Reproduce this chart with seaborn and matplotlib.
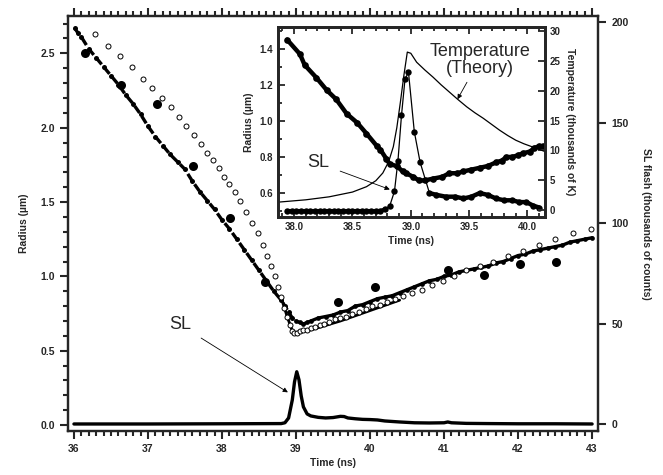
import numpy as np
import pandas as pd
import matplotlib
matplotlib.use("Agg")
import matplotlib.pyplot as plt
from matplotlib.ticker import MultipleLocator
import seaborn as sns

# ---- main plot data (time in ns, radius in um, SL in thousands of counts) ----
fall_t = [36.01, 36.05, 36.1, 36.2, 36.3, 36.4, 36.5, 36.6, 36.7, 36.8, 36.9,
          37.0, 37.1, 37.2, 37.3, 37.4, 37.5, 37.6, 37.7, 37.8, 37.9, 38.0,
          38.1, 38.2, 38.3, 38.4, 38.5, 38.6, 38.7, 38.8, 38.85, 38.9, 38.95]
fall_r = [2.67, 2.64, 2.61, 2.53, 2.47, 2.41, 2.35, 2.29, 2.22, 2.16, 2.09,
          2.01, 1.94, 1.88, 1.82, 1.77, 1.72, 1.64, 1.57, 1.51, 1.45, 1.38,
          1.32, 1.25, 1.18, 1.11, 1.04, 0.97, 0.90, 0.84, 0.80, 0.76, 0.72]

rise_t = [39.0, 39.05, 39.1, 39.15, 39.2, 39.3, 39.4, 39.5, 39.6, 39.7, 39.8,
          39.9, 40.0, 40.1, 40.2, 40.3, 40.4, 40.5, 40.6, 40.7, 40.8, 40.9,
          41.0, 41.1, 41.2, 41.3, 41.4, 41.5, 41.6, 41.7, 41.8, 41.9, 42.0,
          42.1, 42.2, 42.3, 42.4, 42.5, 42.6, 42.7, 42.8, 42.9, 43.0]
rise_r = [0.70, 0.69, 0.68, 0.69, 0.70, 0.72, 0.73, 0.74, 0.76, 0.77, 0.80,
          0.81, 0.83, 0.85, 0.86, 0.87, 0.89, 0.91, 0.93, 0.95, 0.97, 0.98,
          1.00, 1.01, 1.03, 1.04, 1.05, 1.06, 1.07, 1.09, 1.10, 1.12, 1.14,
          1.15, 1.17, 1.18, 1.19, 1.20, 1.21, 1.23, 1.24, 1.25, 1.26]

big_t = [36.15, 36.64, 37.12, 37.61, 38.11, 38.58, 39.57, 40.07, 41.05, 41.54, 42.02, 42.51]
big_r = [2.50, 2.29, 2.16, 1.74, 1.39, 0.96, 0.83, 0.93, 1.04, 1.01, 1.08, 1.10]

theory_t = [36.28, 36.46, 36.62, 36.78, 36.93, 37.06, 37.19, 37.31, 37.42, 37.52,
            37.62, 37.71, 37.80, 37.88, 37.96, 38.03, 38.10, 38.17, 38.24, 38.33,
            38.41, 38.48, 38.55, 38.61, 38.66, 38.71, 38.76, 38.80, 38.84, 38.88,
            38.92, 38.95, 38.97, 39.02, 39.06, 39.10, 39.15, 39.20, 39.26, 39.32,
            39.38, 39.45, 39.52, 39.60, 39.68, 39.76, 39.85, 39.94, 40.03, 40.13,
            40.23, 40.34, 40.45, 40.57, 40.70, 40.84, 40.98, 41.13, 41.30, 41.48,
            41.66, 41.86, 42.06, 42.28, 42.50, 42.74, 42.99]
theory_r = [2.63, 2.55, 2.48, 2.41, 2.33, 2.27, 2.20, 2.14, 2.07, 2.01,
            1.95, 1.89, 1.83, 1.78, 1.73, 1.67, 1.62, 1.57, 1.51, 1.43,
            1.36, 1.29, 1.21, 1.14, 1.07, 1.00, 0.93, 0.86, 0.79, 0.73,
            0.67, 0.63, 0.62, 0.62, 0.63, 0.64, 0.64, 0.65, 0.66, 0.67,
            0.68, 0.69, 0.71, 0.72, 0.73, 0.75, 0.76, 0.78, 0.80, 0.81,
            0.83, 0.85, 0.87, 0.89, 0.91, 0.94, 0.97, 1.00, 1.04, 1.07,
            1.10, 1.14, 1.17, 1.21, 1.25, 1.29, 1.32]
vline_t = [38.80, 38.88, 38.96, 39.2, 39.6, 40.0, 40.4]
vline_r = [0.86, 0.73, 0.62, 0.64, 0.70, 0.77, 0.84]

sl_t = [36.0, 37.0, 38.0, 38.8, 38.85, 38.9, 38.95, 38.98, 39.01, 39.04, 39.07,
        39.1, 39.15, 39.2, 39.3, 39.4, 39.5, 39.6, 39.65, 39.7, 39.8, 39.9,
        40.0, 40.1, 40.2, 40.4, 40.6, 40.8, 41.0, 41.05, 41.1, 41.3, 41.6,
        42.0, 42.5, 43.0]
sl_c = [0.0, 0.0, 0.1, 0.2, 0.6, 3.0, 12.0, 21.0, 26.0, 22.0, 14.0,
        8.5, 5.0, 4.0, 3.3, 3.0, 3.2, 3.8, 3.7, 3.0, 2.6, 2.3,
        2.2, 2.0, 1.5, 1.0, 0.6, 0.5, 0.6, 1.0, 0.6, 0.3, 0.2,
        0.1, 0.1, 0.0]

# ---- inset data ----
in_rad_t = [37.94, 38.05, 38.09, 38.19, 38.28, 38.36, 38.45, 38.54, 38.62, 38.71,
            38.74, 38.79, 38.82, 38.88, 38.93, 38.96, 39.02, 39.07, 39.12, 39.19,
            39.27, 39.33, 39.40, 39.45, 39.52, 39.59, 39.66, 39.73, 39.78, 39.82,
            39.87, 39.92, 39.96, 40.02, 40.06, 40.10, 40.13]
in_rad_r = [1.45, 1.37, 1.31, 1.24, 1.17, 1.12, 1.04, 0.99, 0.93, 0.86,
            0.84, 0.79, 0.76, 0.75, 0.72, 0.71, 0.69, 0.67, 0.67, 0.68,
            0.69, 0.71, 0.71, 0.72, 0.73, 0.74, 0.75, 0.77, 0.78, 0.80,
            0.80, 0.81, 0.82, 0.83, 0.85, 0.86, 0.86]

in_sl_t = [37.94, 37.98, 38.02, 38.06, 38.10, 38.14, 38.18, 38.22, 38.26, 38.30,
           38.34, 38.38, 38.42, 38.46, 38.50, 38.54, 38.58, 38.62, 38.66, 38.70,
           38.74, 38.78, 38.82, 38.86, 38.89, 38.92, 38.95, 38.98, 39.03, 39.08,
           39.16, 39.22, 39.30, 39.38, 39.45, 39.52, 39.59, 39.66, 39.73, 39.80,
           39.87, 39.93, 39.99, 40.05, 40.10]
in_sl_r = [0.50, 0.50, 0.50, 0.50, 0.50, 0.50, 0.50, 0.50, 0.50, 0.50,
           0.50, 0.50, 0.50, 0.50, 0.50, 0.50, 0.50, 0.50, 0.50, 0.50,
           0.50, 0.51, 0.53, 0.61, 0.78, 1.03, 1.23, 1.27, 0.94, 0.77,
           0.60, 0.59, 0.58, 0.58, 0.57, 0.58, 0.60, 0.59, 0.57, 0.56,
           0.56, 0.55, 0.55, 0.53, 0.52]
tail_start = 30  # index where the SL flash has decayed into its tail

temp_t = [37.86, 38.10, 38.30, 38.50, 38.62, 38.70, 38.76, 38.81, 38.85, 38.88,
          38.91, 38.94, 38.97, 39.00, 39.05, 39.12, 39.19, 39.26, 39.33, 39.40,
          39.48, 39.55, 39.62, 39.69, 39.76, 39.83, 39.90, 39.97, 40.04, 40.15]
temp_k = [1.3, 1.7, 2.2, 3.0, 3.9, 4.9, 6.2, 8.1, 10.6, 13.8,
          18.0, 22.5, 26.5, 26.3, 24.8, 23.5, 22.3, 21.0, 19.8, 18.6,
          17.3, 16.3, 15.4, 14.4, 13.4, 12.5, 11.7, 11.1, 10.6, 9.8]

sns.set_style("ticks")
plt.rcParams["font.family"] = ["Liberation Sans", "DejaVu Sans"]
plt.rcParams["axes.linewidth"] = 1.6

fig = plt.figure(figsize=(6.63, 4.75), dpi=100)
ax = fig.add_axes([0.1026, 0.0926, 0.7994, 0.8734])
ax2 = ax.twinx()

ax.plot(fall_t, fall_r, "o", color="black", ms=3.6, mew=0)
ax.plot(fall_t, fall_r, color="black", lw=2.4, ls=(0, (2.5, 1.2)))
ax.plot(rise_t, rise_r, "o-", color="black", ms=3.4, mew=0, lw=2.4)
ax.plot(big_t, big_r, "o", color="black", ms=6.5, mew=0)
ax.plot(vline_t, vline_r, "-", color="black", lw=2.0)
ax.plot(theory_t, theory_r, "o", mfc="white", mec="black", ms=3.6, mew=0.7)
sns.lineplot(x=sl_t, y=sl_c, ax=ax2, color="black", lw=2.4, estimator=None, sort=False)

ax.set_xlim(35.92, 43.08)
ax.set_ylim(-0.04, 2.75)
ax2.set_ylim(-3.5, 203)
ax.xaxis.set_major_locator(MultipleLocator(1))
ax.xaxis.set_minor_locator(MultipleLocator(0.1))
ax.yaxis.set_major_locator(MultipleLocator(0.5))
ax.yaxis.set_minor_locator(MultipleLocator(0.1))
ax2.yaxis.set_major_locator(MultipleLocator(50))
ax.tick_params(which="both", direction="out", top=True, width=1.5, labelsize=7.5)
ax.tick_params(which="major", length=6)
ax.tick_params(which="minor", length=3.5)
ax2.tick_params(direction="out", length=6, width=1.5, labelsize=7.5)
for t in ax.get_xticklabels() + ax.get_yticklabels() + ax2.get_yticklabels():
    t.set_fontweight("bold")
ax.set_xlabel("Time (ns)", fontsize=7.5, fontweight="bold", labelpad=3)
ax.set_ylabel("Radius (µm)", fontsize=7.5, fontweight="bold", labelpad=8)
ax2.set_ylabel("SL flash (thousands of counts)", fontsize=7.5, fontweight="bold",
               rotation=270, labelpad=16)

ax.annotate("SL", xy=(38.89, 0.22), xytext=(37.43, 0.675), fontsize=13,
            ha="center", va="center",
            arrowprops=dict(arrowstyle="-|>", color="black", lw=0.6,
                            mutation_scale=7, shrinkA=6, shrinkB=0))

# ---- inset ----
axi = fig.add_axes([0.419, 0.543, 0.403, 0.400])
axi.set_facecolor("white")
axt = axi.twinx()
for a in (axi, axt):
    for s in a.spines.values():
        s.set_linewidth(2.0)
axi.plot(in_sl_t, in_sl_r, "o-", color="black", ms=4.6, mew=0, lw=0.9)
axi.plot(in_sl_t[:22], in_sl_r[:22], "-", color="black", lw=3.0)
axi.plot(in_sl_t[tail_start:], in_sl_r[tail_start:], "-", color="black", lw=3.2)
axi.plot(in_rad_t, in_rad_r, "o-", color="black", ms=4.8, mew=0, lw=3.2)
sns.lineplot(x=temp_t, y=temp_k, ax=axt, color="black", lw=0.9, estimator=None, sort=False)

axi.set_xlim(37.86, 40.15)
axi.set_ylim(0.467, 1.52)
axt.set_ylim(-1.2, 30.7)
axi.xaxis.set_major_locator(MultipleLocator(0.5))
axi.xaxis.set_minor_locator(MultipleLocator(0.1))
axi.yaxis.set_major_locator(MultipleLocator(0.2))
axi.yaxis.set_minor_locator(MultipleLocator(0.1))
axt.yaxis.set_major_locator(MultipleLocator(5))
axi.tick_params(which="both", direction="in", top=True, width=1.3, labelsize=7)
axi.tick_params(which="major", length=5)
axi.tick_params(which="minor", length=3)
axt.tick_params(direction="in", length=5, width=1.3, labelsize=7)
for t in axi.get_xticklabels() + axi.get_yticklabels() + axt.get_yticklabels():
    t.set_fontweight("bold")
axi.set_xlabel("Time (ns)", fontsize=7.5, fontweight="bold", labelpad=3)
axi.set_ylabel("Radius (µm)", fontsize=7.5, fontweight="bold", labelpad=4)
axt.set_ylabel("Temperature (thousands of K)", fontsize=7.5, fontweight="bold",
               rotation=270, labelpad=10)

axi.annotate("SL", xy=(38.82, 0.62), xytext=(38.205, 0.767), fontsize=13,
             ha="center", va="center",
             arrowprops=dict(arrowstyle="-|>", color="black", lw=0.6,
                             mutation_scale=7, shrinkA=6, shrinkB=0))
axi.annotate("Temperature\n(Theory)", xy=(39.40, 1.12), xytext=(39.59, 1.34),
             fontsize=13, ha="center", va="center", linespacing=1.0,
             arrowprops=dict(arrowstyle="-|>", color="black", lw=0.6,
                             mutation_scale=7, shrinkA=2, shrinkB=0))

fig.savefig("out.png", dpi=100)
